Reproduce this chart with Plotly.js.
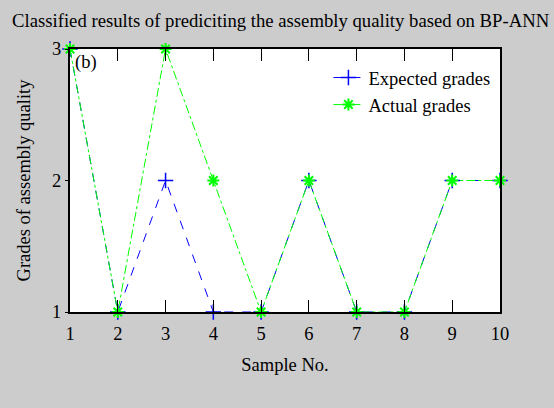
<!DOCTYPE html>
<html><head><meta charset="utf-8">
<script src="https://cdn.plot.ly/plotly-3.0.1.min.js"></script>
<style>html,body{margin:0;padding:0;background:#cccccc;}</style>
</head><body>
<div id="chart" style="width:554px;height:408px;"></div>
<script>
var samples = [1,2,3,4,5,6,7,8,9,10];
var expectedGrades = [3,1,2,1,1,2,1,1,2,2];
var actualGrades = [3,1,3,2,1,2,1,1,2,2];
var xTicks = [1,2,3,4,5,6,7,8,9,10];
var yTicks = [1,2,3];

var fam = '"Liberation Serif", "Times New Roman", serif';
var font = {family: fam, color: '#000', size: 18.5};

var traces = [
  {x: samples, y: expectedGrades, name: 'Expected grades', mode: 'lines+markers',
   line: {color: '#0000ff', width: 1, dash: 'dash'},
   marker: {symbol: 'cross-thin-open', size: 11, color: '#0000ff', line: {color: '#0000ff', width: 1.5}}, cliponaxis: false},
  {x: samples, y: actualGrades, name: 'Actual grades', mode: 'lines+markers',
   line: {color: '#00ff00', width: 1, dash: 'dashdot'},
   marker: {symbol: 'asterisk-open', size: 10, color: '#00ff00', line: {color: '#00ff00', width: 2}}, cliponaxis: false}
];

var layout = {
  width: 554, height: 408,
  paper_bgcolor: '#cccccc', plot_bgcolor: '#ffffff',
  margin: {l: 70, r: 54, t: 49, b: 96},
  font: font,
  showlegend: true,
  legend: {x: 0.601, y: 0.962, xanchor: 'left', yanchor: 'top', bgcolor: 'rgba(255,255,255,0)', font: font, tracegroupgap: 0},
  title: {text: 'Classified results of prediciting the assembly quality based on BP-ANN', font: {family: fam, color: '#000', size: 18.7},
    x: 12/554, xanchor: 'left', xref: 'container', y: 1 - 20/408, yanchor: 'middle', yref: 'container'},
  xaxis: {range: [1,10], tickvals: xTicks, ticktext: xTicks.map(String), ticks: 'inside', ticklen: 12, tickcolor: '#000',
    ticklabelstandoff: 4,
    showline: true, linecolor: '#000', linewidth: 2, mirror: 'ticks', showgrid: false, zeroline: false,
    title: {text: 'Sample No.', font: font, standoff: 15}, tickfont: font},
  yaxis: {range: [1,3], tickvals: yTicks, ticktext: yTicks.map(String), ticks: 'outside', ticklen: 3, tickcolor: '#000',
    showline: true, linecolor: '#000', linewidth: 2, mirror: true, showgrid: false, zeroline: false,
    title: {text: 'Grades of assembly quality', font: font, standoff: 17}, tickfont: font},
  annotations: [{text: '(b)', xref: 'paper', yref: 'paper', x: 0.006, y: 0.995, xanchor: 'left', yanchor: 'top', showarrow: false, font: font}]
};

Plotly.newPlot('chart', traces, layout, {displayModeBar: false, staticPlot: true});
</script>
</body></html>
